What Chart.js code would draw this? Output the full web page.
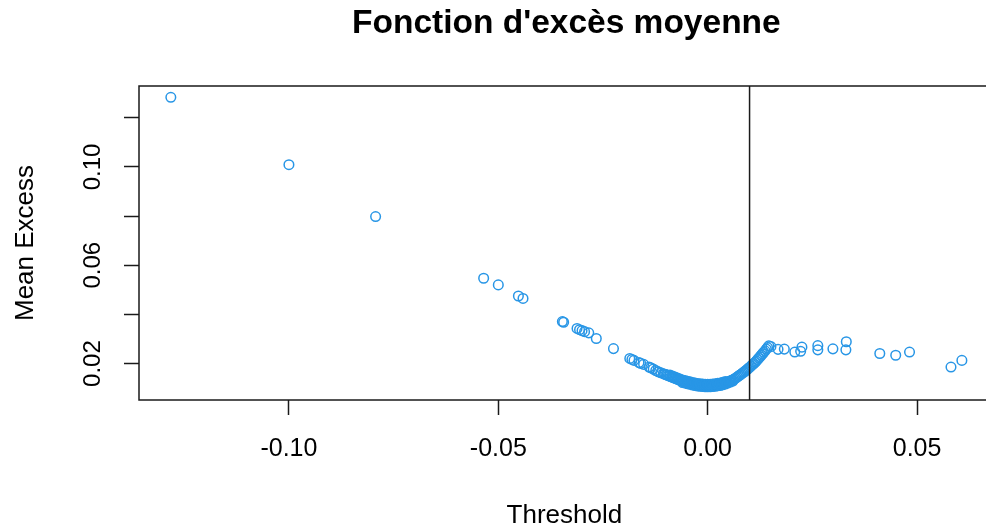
<!DOCTYPE html>
<html>
<head>
<meta charset="utf-8">
<script src="https://cdn.jsdelivr.net/npm/chart.js@4"></script>
<style>
  html, body { margin: 0; padding: 0; background: #fff; overflow: hidden; }
  #wrap { width: 1000px; height: 529px; }
</style>
</head>
<body>
<div id="wrap"><canvas id="chart" width="1000" height="529"></canvas></div>
<script>
// sparse points on the left tail
const leftX = [-0.1282, -0.1000, -0.0793, -0.0535, -0.0500, -0.0452, -0.0441, -0.0347, -0.0344,
  -0.0312, -0.0306, -0.0300, -0.0294, -0.0284, -0.0266, -0.0225, -0.0186, -0.0181, -0.0176,
  -0.0164, -0.0160, -0.0153, -0.0140, -0.0136, -0.0130, -0.0124, -0.0118, -0.0112];
const leftY = [0.1283, 0.1009, 0.0798, 0.0547, 0.0520, 0.0475, 0.0465, 0.0371, 0.0368,
  0.0343, 0.0338, 0.0334, 0.0330, 0.0325, 0.0302, 0.0261, 0.0221, 0.0217, 0.0213,
  0.0204, 0.0201, 0.0197, 0.0186, 0.0183, 0.0178, 0.0172, 0.0167, 0.0163];

// dense cloud around zero
const coreX = [-0.0106, -0.0103, -0.0100, -0.0097, -0.0094, -0.0091, -0.0088, -0.0085, -0.0082,
  -0.0079, -0.0076, -0.0073, -0.0070, -0.0067, -0.0064, -0.0061, -0.0058, -0.0055, -0.0052,
  -0.0049, -0.0046, -0.0043, -0.0040, -0.0037, -0.0034, -0.0031, -0.0028, -0.0025, -0.0022,
  -0.0019, -0.0016, -0.0013, -0.0010, -0.0007, -0.0004, -0.0001, 0.0002, 0.0005, 0.0008,
  0.0011, 0.0014, 0.0017, 0.0020, 0.0023, 0.0026, 0.0029, 0.0032, 0.0035, 0.0038,
  0.0041, 0.0044, 0.0047, 0.0050, 0.0053, 0.0056, 0.0059, 0.0062, 0.0065, 0.0068,
  0.0071, 0.0074, 0.0077, 0.0080, 0.0083, 0.0086, 0.0089, 0.0092, 0.0095, 0.0098,
  0.0101, 0.0104, 0.0107, 0.0110, 0.0113, 0.0116, 0.0119, 0.0122, 0.0125, 0.0128,
  0.0131, 0.0134, 0.0137, 0.0140, 0.0143, 0.0146];
const coreY = [0.0159, 0.0157, 0.0155, 0.0153, 0.0151, 0.0149, 0.0147, 0.0145, 0.0143,
  0.0141, 0.0139, 0.0137, 0.0135, 0.0133, 0.0131, 0.0129, 0.0128, 0.0126, 0.0125,
  0.0123, 0.0122, 0.0121, 0.0120, 0.0118, 0.0117, 0.0116, 0.0115, 0.0114, 0.0113,
  0.0113, 0.0112, 0.0112, 0.0111, 0.0111, 0.0111, 0.0111, 0.0111, 0.0111, 0.0111,
  0.0112, 0.0112, 0.0113, 0.0114, 0.0115, 0.0115, 0.0116, 0.0117, 0.0119, 0.0120,
  0.0121, 0.0123, 0.0125, 0.0127, 0.0129, 0.0131, 0.0133, 0.0136, 0.0139, 0.0142,
  0.0146, 0.0150, 0.0153, 0.0157, 0.0161, 0.0165, 0.0169, 0.0173, 0.0177, 0.0182,
  0.0186, 0.0191, 0.0196, 0.0200, 0.0205, 0.0210, 0.0216, 0.0222, 0.0228, 0.0234,
  0.0240, 0.0246, 0.0252, 0.0259, 0.0265, 0.0272];

// lower and upper edges of the dense cloud (it is a thick band)
const lowEdgeX = [-0.0060, -0.0054, -0.0048, -0.0042, -0.0036, -0.0030, -0.0024, -0.0018, -0.0012,
  -0.0006, 0.0000, 0.0006, 0.0012, 0.0018, 0.0024, 0.0030, 0.0036, 0.0042, 0.0048, 0.0054, 0.0060];
const lowEdgeY = [0.0123, 0.0121, 0.0118, 0.0116, 0.0113, 0.0111, 0.0109, 0.0108, 0.0107,
  0.0106, 0.0106, 0.0106, 0.0107, 0.0108, 0.0110, 0.0111, 0.0114, 0.0117, 0.0121, 0.0125, 0.0129];
const highEdgeX = [-0.0090, -0.0084, -0.0078, -0.0072, -0.0066, -0.0060, -0.0054, -0.0048, -0.0042,
  -0.0036, -0.0030, -0.0024, -0.0018, -0.0012, -0.0006, 0.0000, 0.0006, 0.0012, 0.0018,
  0.0024, 0.0030, 0.0036, 0.0042];
const highEdgeY = [0.0153, 0.0149, 0.0145, 0.0141, 0.0137, 0.0133, 0.0131, 0.0128, 0.0126,
  0.0123, 0.0121, 0.0119, 0.0118, 0.0117, 0.0116, 0.0116, 0.0116, 0.0117, 0.0118,
  0.0120, 0.0121, 0.0124, 0.0127];

// sparse points on the right tail
const rightX = [0.0151, 0.0168, 0.0183, 0.0208, 0.0222, 0.0225, 0.0263, 0.0263, 0.0299,
  0.0331, 0.0330, 0.0411, 0.0449, 0.0482, 0.0581, 0.0607];
const rightY = [0.0269, 0.0258, 0.0259, 0.0247, 0.0250, 0.0267, 0.0273, 0.0256, 0.0260,
  0.0289, 0.0256, 0.0241, 0.0234, 0.0247, 0.0186, 0.0213];

const xTicks = [-0.10, -0.05, 0.00, 0.05];
const yTicks = [0.02, 0.04, 0.06, 0.08, 0.10, 0.12];
const yTickLabels = ['0.02', '', '0.06', '', '0.10', ''];
const cutoff = 0.01;
const xRange = [-0.1358, 0.0683];
const yRange = [0.0052, 0.1329];

const allX = leftX.concat(coreX, lowEdgeX, highEdgeX, rightX);
const allY = leftY.concat(coreY, lowEdgeY, highEdgeY, rightY);
const points = allX.map((x, i) => ({ x: x, y: allY[i] }));

const FONT = '"Liberation Sans", Arial, sans-serif';
const INK = '#1a1a1a';

const rDecor = {
  id: 'rDecor',
  afterDatasetsDraw(chart) {
    const { ctx, chartArea: a, scales: { x } } = chart;
    ctx.save();
    ctx.strokeStyle = INK;
    ctx.lineWidth = 1.5;
    const cx = x.getPixelForValue(cutoff);
    ctx.beginPath();
    ctx.moveTo(cx, a.top);
    ctx.lineTo(cx, a.bottom);
    ctx.stroke();
    ctx.strokeRect(a.left, a.top, a.right - a.left, a.bottom - a.top);
    ctx.restore();
  },
  afterDraw(chart) {
    const { ctx, chartArea: a, scales: { y } } = chart;
    const mid = (a.left + a.right) / 2;
    ctx.save();
    ctx.fillStyle = '#000';
    ctx.textAlign = 'center';
    ctx.textBaseline = 'alphabetic';

    ctx.font = 'bold 33.5px ' + FONT;
    ctx.fillText("Fonction d'excès moyenne", mid, 33);

    ctx.font = '26px ' + FONT;
    ctx.fillText('Threshold', mid - 2, 523);

    ctx.save();
    ctx.translate(33, (a.top + a.bottom) / 2);
    ctx.rotate(-Math.PI / 2);
    ctx.fillText('Mean Excess', 0, 0);
    ctx.restore();

    ctx.font = '24px ' + FONT;
    yTicks.forEach((v, i) => {
      if (!yTickLabels[i]) return;
      ctx.save();
      ctx.translate(100, y.getPixelForValue(v));
      ctx.rotate(-Math.PI / 2);
      ctx.fillText(yTickLabels[i], 0, 0);
      ctx.restore();
    });
    ctx.restore();
  }
};

new Chart(document.getElementById('chart'), {
  type: 'scatter',
  data: {
    datasets: [{
      data: points,
      pointStyle: 'circle',
      pointRadius: 4.8,
      pointBorderWidth: 1.5,
      pointBorderColor: '#2896e6',
      pointBackgroundColor: 'rgba(0,0,0,0)',
      pointHoverRadius: 4.8
    }]
  },
  options: {
    responsive: false,
    animation: false,
    events: [],
    devicePixelRatio: 1,
    layout: { padding: { top: 86, right: 3, left: 0, bottom: 0 } },
    plugins: { legend: { display: false }, tooltip: { enabled: false }, title: { display: false } },
    scales: {
      x: {
        type: 'linear',
        min: xRange[0],
        max: xRange[1],
        afterBuildTicks: s => { s.ticks = xTicks.map(v => ({ value: v })); },
        afterFit: s => { s.height = 129; },
        grid: { drawOnChartArea: false, drawTicks: true, tickLength: 15, tickWidth: 1.5, tickColor: INK },
        border: { display: false },
        ticks: {
          padding: 19,
          color: '#000',
          font: { family: FONT, size: 25 },
          maxRotation: 0,
          callback: v => v.toFixed(2)
        }
      },
      y: {
        type: 'linear',
        min: yRange[0],
        max: yRange[1],
        afterBuildTicks: s => { s.ticks = yTicks.map(v => ({ value: v })); },
        afterFit: s => { s.width = 139; },
        grid: { drawOnChartArea: false, drawTicks: true, tickLength: 15, tickWidth: 1.5, tickColor: INK },
        border: { display: false },
        ticks: { display: false }
      }
    }
  },
  plugins: [rDecor]
});
</script>
</body>
</html>
